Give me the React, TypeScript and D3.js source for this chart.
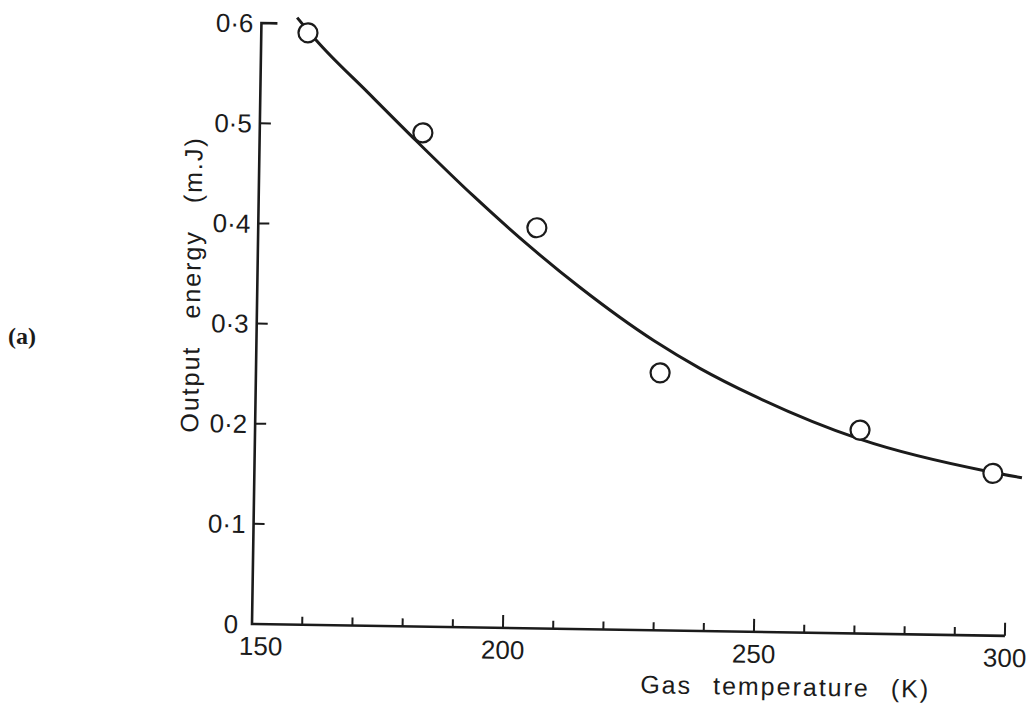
import React from "react";
import * as d3 from "d3";

// measured points (gas temperature K, output energy mJ)
const tempPoints = [159.3, 182.5, 205.5, 230.5, 270.5, 297.1];
const energyPoints = [0.591, 0.493, 0.4, 0.257, 0.203, 0.162];

// hand drawn fitted curve
const curveTemps = [157.1, 161.1, 171.5, 181.4, 192.7, 204.2, 214.3, 229.2, 238.5, 249.1, 270.5, 295.9, 302.9];
const curveEnergy = [0.606, 0.583, 0.532, 0.484, 0.431, 0.381, 0.341, 0.289, 0.262, 0.236, 0.194, 0.164, 0.158];

const xMajorTicks = [150, 200, 250, 300];
const xMinorTicks = [160, 170, 180, 190, 210, 220, 230, 240, 260, 270, 280, 290];
const yTicks = [0, 0.1, 0.2, 0.3, 0.4, 0.5, 0.6];
const yTickLabels = ["0", "0·1", "0·2", "0·3", "0·4", "0·5", "0·6"];

const width = 1035;
const height = 710;
const origin = { x: 252, y: 624 };
const tilt = 0.9; // scanned page is slightly rotated

const ink = "#1b1b1b";
const font = "'Liberation Sans', Arial, sans-serif";

export default function App() {
  const x = d3.scaleLinear().domain([150, 300]).range([0, 753]);
  const y = d3.scaleLinear().domain([0, 0.6]).range([0, -601]);

  const line = d3
    .line<number>()
    .x((_, i) => x(curveTemps[i]))
    .y((d) => y(d))
    .curve(d3.curveMonotoneX);

  return (
    <svg
      width={width}
      height={height}
      style={{ position: "absolute", left: 0, top: 0, background: "#fff" }}
    >
      <text
        x={8}
        y={344}
        fontFamily="'Liberation Serif', 'Times New Roman', serif"
        fontSize={24}
        fontWeight="bold"
        fill={ink}
      >
        (a)
      </text>

      <g transform={`translate(${origin.x},${origin.y}) rotate(${tilt})`}>
        {/* axes */}
        <path
          d={`M${x(300)},${y(0)} L${x(150)},${y(0)} L${x(150)},${y(0.6)} L${x(150) + 16},${y(0.6)}`}
          fill="none"
          stroke={ink}
          strokeWidth={2.6}
        />
        {yTicks.slice(1, -1).map((t) => (
          <line key={t} x1={0} x2={11} y1={y(t)} y2={y(t)} stroke={ink} strokeWidth={2} />
        ))}
        {yTicks.map((t, i) => (
          <text
            key={t}
            x={i === 0 ? -14 : -8}
            y={y(t)}
            dy="0.36em"
            textAnchor="end"
            fontFamily={font}
            fontSize={26}
            fill={ink}
          >
            {yTickLabels[i]}
          </text>
        ))}
        {xMinorTicks.map((t) => (
          <line key={t} x1={x(t)} x2={x(t)} y1={0} y2={-8} stroke={ink} strokeWidth={2} />
        ))}
        {xMajorTicks.slice(1).map((t) => (
          <line key={t} x1={x(t)} x2={x(t)} y1={0} y2={-13} stroke={ink} strokeWidth={2} />
        ))}
        {xMajorTicks.map((t, i) => (
          <text
            key={t}
            x={x(t) + (i === 0 ? 9 : 0)}
            y={31}
            textAnchor="middle"
            fontFamily={font}
            fontSize={26}
            fill={ink}
          >
            {t}
          </text>
        ))}

        {/* axis titles */}
        <text
          x={x(256.4)}
          y={63}
          textAnchor="middle"
          fontFamily={font}
          fontSize={25}
          letterSpacing={2}
          wordSpacing={12}
          fill={ink}
        >
          Gas temperature (K)
        </text>
        <text
          transform={`translate(-57,${y(0.338)}) rotate(-90)`}
          textAnchor="middle"
          fontFamily={font}
          fontSize={25}
          letterSpacing={2}
          wordSpacing={18}
          fill={ink}
        >
          Output energy (m.J)
        </text>

        {/* fitted curve */}
        <path d={line(curveEnergy) ?? ""} fill="none" stroke={ink} strokeWidth={3} />

        {/* data points */}
        {tempPoints.map((t, i) => (
          <circle
            key={t}
            cx={x(t)}
            cy={y(energyPoints[i])}
            r={9.5}
            fill="#fff"
            stroke={ink}
            strokeWidth={2.2}
          />
        ))}
      </g>
    </svg>
  );
}
